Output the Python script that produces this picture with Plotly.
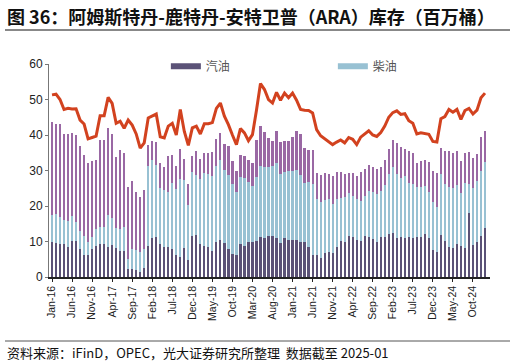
import pandas as pd
import plotly.graph_objects as go

months = [d.strftime("%b-%y") for d in pd.date_range("2016-01-01", "2025-01-01", freq="MS")]
tick_labels = ["Jan-16", "Jun-16", "Nov-16", "Apr-17", "Sep-17", "Feb-18", "Jul-18", "Dec-18",
               "May-19", "Oct-19", "Mar-20", "Aug-20", "Jan-21", "Jun-21", "Nov-21", "Apr-22",
               "Sep-22", "Feb-23", "Jul-23", "Dec-23", "May-24", "Oct-24"]

gasoline = [10.0, 9.7, 9.3, 9.3, 8.5, 10.1, 10.2, 7.9, 6.2, 6.2, 7.8, 8.7, 9.3, 9.2, 8.5, 9.0, 8.1, 7.4, 7.4,
            2.2, 2.2, 2.0, 1.5, 2.4, 8.7, 10.9, 11.4, 9.3, 8.5, 8.4, 8.0, 6.3, 5.7, 8.2, 4.9, 11.5, 11.7,
            9.4, 8.6, 8.4, 7.2, 9.9, 10.5, 9.6, 7.9, 6.6, 6.3, 9.4, 8.6, 9.8, 10.0, 10.2, 11.3, 11.0, 11.6,
            11.6, 11.0, 9.6, 11.0, 10.5, 10.3, 10.5, 10.0, 9.9, 8.5, 6.3, 6.3, 5.4, 6.9, 7.1, 6.9, 8.5,
            10.1, 10.0, 11.5, 11.4, 10.4, 10.1, 11.5, 11.2, 10.6, 10.0, 11.4, 11.4, 12.0, 12.3, 10.9, 11.4,
            11.1, 11.2, 10.9, 11.3, 11.4, 12.1, 10.9, 7.6, 7.1, 11.8, 10.2, 8.5, 8.1, 9.3, 8.8, 8.1, 18.1,
            9.0, 10.0, 11.5, 13.9]
diesel = [7.5, 8.0, 7.7, 6.8, 7.4, 7.2, 5.4, 5.0, 5.3, 3.8, 3.6, 4.7, 4.7, 4.8, 9.0, 7.7, 5.6, 6.1, 6.6,
          2.8, 5.6, 5.6, 5.6, 5.4, 22.6, 22.2, 20.1, 15.7, 16.0, 15.6, 18.6, 18.4, 21.8, 19.0, 15.3, 18.0,
          17.1, 18.2, 20.7, 20.6, 21.2, 21.5, 22.6, 20.6, 20.9, 19.7, 17.6, 18.8, 19.3, 17.1, 15.5, 17.9,
          20.1, 20.0, 19.4, 19.6, 21.1, 19.5, 18.5, 19.3, 19.7, 19.7, 18.8, 16.6, 18.3, 19.9, 15.8, 15.7,
          14.7, 15.0, 13.8, 13.5, 12.2, 12.4, 12.1, 11.4, 11.5, 11.4, 11.3, 13.1, 13.4, 13.4, 12.9, 14.5,
          17.0, 18.8, 18.2, 16.4, 17.4, 15.2, 15.3, 14.1, 14.0, 13.5, 13.1, 13.6, 12.7, 17.2, 16.0, 16.9,
          16.9, 16.6, 14.8, 18.3, 8.1, 16.0, 17.1, 18.5, 18.4]
other = [26.1, 25.3, 26.2, 24.2, 24.3, 23.3, 24.3, 24.0, 22.9, 22.0, 21.4, 19.7, 24.6, 24.6, 24.4, 23.6,
         20.2, 22.2, 20.8, 20.4, 19.3, 16.4, 15.3, 16.7, 5.9, 5.2, 6.6, 7.0, 6.6, 10.1, 7.8, 6.6, 8.5, 6.1,
         6.0, 4.7, 6.7, 5.7, 5.6, 5.9, 6.8, 7.6, 7.5, 7.3, 8.0, 6.5, 5.9, 6.3, 6.3, 6.2, 6.6, 10.4, 11.0,
         9.8, 8.2, 7.0, 8.9, 8.8, 8.9, 8.4, 9.4, 11.0, 11.6, 9.7, 8.9, 9.6, 7.2, 7.7, 7.7, 6.8, 7.8, 7.6,
         7.3, 6.7, 5.6, 6.4, 6.6, 8.0, 7.6, 7.2, 6.9, 6.9, 6.8, 7.2, 7.0, 7.5, 8.7, 8.7, 7.6, 9.2, 8.8,
         6.8, 7.3, 7.4, 8.3, 8.7, 9.6, 7.2, 9.4, 10.2, 9.8, 9.6, 9.2, 8.6, 8.9, 8.6, 7.5, 9.3, 8.8]
total = [51.3, 51.5, 50.0, 47.2, 47.5, 47.3, 47.4, 44.2, 43.1, 38.9, 39.3, 39.7, 45.4, 45.4, 50.6, 48.9,
         43.3, 43.9, 41.9, 44.2, 42.8, 40.3, 36.3, 37.8, 44.8, 45.4, 45.9, 39.5, 39.2, 42.5, 43.3, 40.0,
         47.2, 41.0, 37.1, 42.0, 42.5, 40.3, 43.2, 43.2, 43.5, 47.5, 49.0, 45.3, 42.9, 40.0, 37.3, 41.8,
         40.6, 38.4, 40.1, 47.0, 54.5, 52.8, 50.0, 49.0, 52.0, 49.8, 51.8, 50.5, 51.8, 49.8, 47.2, 47.0,
         46.9, 46.2, 41.5, 39.8, 39.0, 38.0, 37.3, 38.0, 38.6, 37.8, 39.3, 38.8, 37.3, 39.4, 40.4, 41.2,
         40.0, 39.6, 40.7, 42.5, 45.0, 46.3, 46.8, 45.8, 46.0, 44.0, 43.3, 40.3, 40.6, 40.4, 40.2, 38.2,
         38.0, 44.6, 45.2, 47.2, 46.4, 47.2, 44.4, 46.9, 47.5, 45.9, 47.0, 50.5, 51.8]

C_GAS = "#5b5277"
C_DIE = "#98c1d3"
C_OTH = "#9a68a4"
C_LINE = "#d2421f"
CJK = "Noto Sans CJK SC"
LAT = "Liberation Sans"

fig = go.Figure()
fig.add_trace(go.Bar(x=months, y=gasoline, name="汽油", marker=dict(color=C_GAS, line=dict(width=0)), showlegend=False))
fig.add_trace(go.Bar(x=months, y=diesel, name="柴油", marker=dict(color=C_DIE, line=dict(width=0)), showlegend=False))
fig.add_trace(go.Bar(x=months, y=other, name="其他", marker=dict(color=C_OTH, line=dict(width=0)), showlegend=False))
fig.add_trace(go.Scatter(x=months, y=total, mode="lines", name="总库存",
                         line=dict(color=C_LINE, width=3), showlegend=False))
# legend entries
fig.add_trace(go.Scatter(x=[None], y=[None], mode="lines", name="汽油", line=dict(color=C_GAS, width=6)))
fig.add_trace(go.Scatter(x=[None], y=[None], mode="lines", name="柴油", line=dict(color=C_DIE, width=6)))

fig.update_layout(
    width=516, height=361,
    margin=dict(l=49, r=26, t=64, b=84),
    paper_bgcolor="white", plot_bgcolor="white",
    barmode="stack", bargap=0.45,
    font=dict(family=LAT, size=11, color="#333333"),
    legend=dict(orientation="h", x=0.265, y=0.99, xanchor="left", yanchor="middle",
                traceorder="normal", entrywidth=122, entrywidthmode="pixels",
                font=dict(family=CJK, size=12, color="#555555"), bgcolor="rgba(0,0,0,0)"),
    xaxis=dict(type="category", categoryorder="array", categoryarray=months,
               range=[-0.75, 109.25], tickmode="array", tickvals=tick_labels, ticktext=tick_labels,
               tickangle=-90, tickfont=dict(family=LAT, size=10.5, color="#222222"),
               showline=True, linecolor="#222222", linewidth=1.5, ticks="outside", ticklen=3,
               tickcolor="#222222", showgrid=False, zeroline=False),
    yaxis=dict(range=[0, 60], dtick=10, tickfont=dict(family=LAT, size=12, color="#222222"),
               showline=True, linecolor="#777777", linewidth=1, ticks="outside", ticklen=3,
               tickcolor="#777777", showgrid=False, zeroline=False),
    annotations=[
        dict(text="<b>图 36：阿姆斯特丹-鹿特丹-安特卫普（ARA）库存（百万桶）</b>", xref="paper", yref="paper",
             x=(5 - 49) / 441, y=(277 - 16) / 213, xanchor="left", yanchor="middle", showarrow=False,
             font=dict(family=CJK, size=18, color="#111111")),
        dict(text="资料来源：iFinD，OPEC，光大证券研究所整理  数据截至 2025-01", xref="paper", yref="paper",
             x=(5 - 49) / 441, y=(277 - 352) / 213, xanchor="left", yanchor="middle", showarrow=False,
             font=dict(family=CJK, size=13, color="#111111")),
    ],
    shapes=[
        dict(type="line", xref="paper", yref="paper", x0=(5 - 49) / 441, x1=(510 - 49) / 441,
             y0=(277 - 30) / 213, y1=(277 - 30) / 213, line=dict(color="#888888", width=2)),
        dict(type="line", xref="paper", yref="paper", x0=(5 - 49) / 441, x1=(510 - 49) / 441,
             y0=(277 - 341) / 213, y1=(277 - 341) / 213, line=dict(color="#555555", width=1)),
    ],
)

fig.write_html("out.html", config={"displayModeBar": False},
               post_script="document.body.style.margin='0px';document.body.style.overflow='hidden';")
